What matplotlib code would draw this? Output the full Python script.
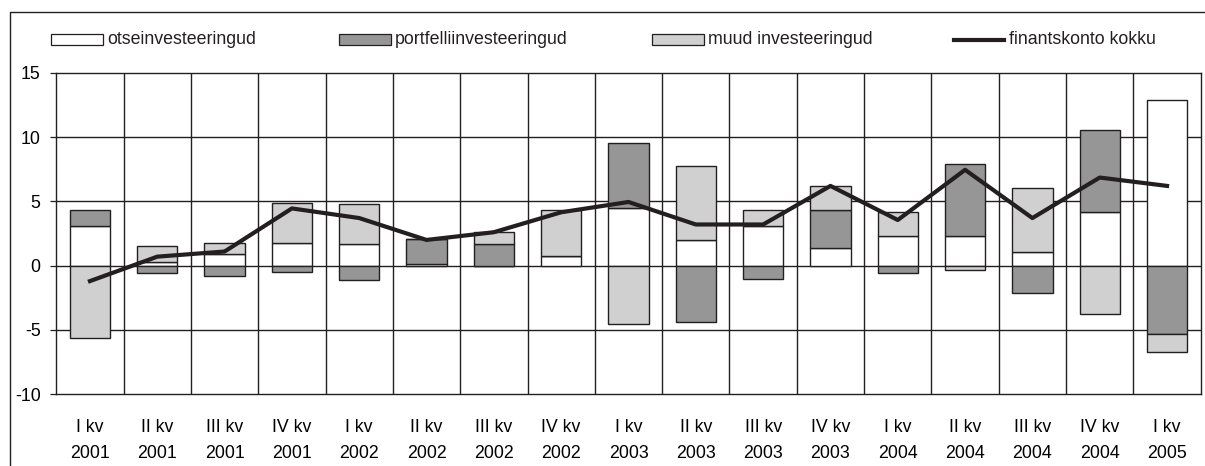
import matplotlib
matplotlib.use("Agg")
import matplotlib.pyplot as plt
from matplotlib.patches import Rectangle
from matplotlib.lines import Line2D
import numpy as np

plt.rcParams['font.family'] = ['Liberation Sans', 'DejaVu Sans']

quarters = ["I kv", "II kv", "III kv", "IV kv", "I kv", "II kv", "III kv", "IV kv", "I kv",
            "II kv", "III kv", "IV kv", "I kv", "II kv", "III kv", "IV kv", "I kv"]
years = ["2001", "2001", "2001", "2001", "2002", "2002", "2002", "2002", "2003",
         "2003", "2003", "2003", "2004", "2004", "2004", "2004", "2005"]

# otseinvesteeringud, portfelliinvesteeringud, muud investeeringud, finantskonto kokku
otse = [3.1, 0.3, 0.9, 1.8, 1.7, 0.1, 0.0, 0.75, 4.5, 2.0, 3.1, 1.4, 2.3, 2.3, 1.05, 4.2, 12.9]
portf = [1.2, -0.6, -0.8, -0.5, -1.1, 2.0, 1.7, 0.0, 5.0, -4.4, -1.0, 2.95, -0.6, 5.6, -2.15, 6.35, -5.3]
muud = [-5.6, 1.2, 0.9, 3.1, 3.1, 0.0, 0.9, 3.6, -4.5, 5.75, 1.25, 1.85, 1.85, -0.3, 5.0, -3.75, -1.4]
kokku = [-1.2, 0.7, 1.1, 4.45, 3.7, 2.0, 2.6, 4.15, 4.95, 3.2, 3.2, 6.2, 3.55, 7.45, 3.7, 6.85, 6.2]

names = ["otseinvesteeringud", "portfelliinvesteeringud", "muud investeeringud", "finantskonto kokku"]
fills = ["white", "#969696", "#d0d0d0"]
edge = "#231f20"
fs = 12.8

W, H = 1205, 466
fig = plt.figure(figsize=(W / 100, H / 100), dpi=100)
ax = fig.add_axes([56.3 / W, 1 - 394.3 / H, (1200.7 - 56.3) / W, (394.3 - 72.7) / H])

x = np.arange(len(otse))
pos_base = np.zeros(len(x))
neg_base = np.zeros(len(x))
for vals, fc in zip([otse, portf, muud], fills):
    v = np.array(vals)
    bottom = np.where(v >= 0, pos_base, neg_base)
    ax.bar(x, v, 0.6, bottom=bottom, color=fc, edgecolor=edge, linewidth=1.0, zorder=3)
    pos_base = pos_base + np.where(v >= 0, v, 0)
    neg_base = neg_base + np.where(v < 0, v, 0)

ax.plot(x, kokku, color=edge, linewidth=3.0, zorder=4)

ax.set_xlim(-0.5, len(x) - 0.5)
ax.set_ylim(-10, 15)
ax.set_yticks([-10, -5, 0, 5, 10, 15])
ax.set_yticklabels(["-10", "-5", "0", "5", "10", "15"], fontsize=fs)
ax.tick_params(axis='y', length=4.3, width=0.9, color=edge, pad=7)
ax.set_xticks(x)
ax.set_xticklabels([q + "\n" + y for q, y in zip(quarters, years)], fontsize=fs, linespacing=1.75)
ax.tick_params(axis='x', length=0, pad=17.5)

# horizontal grid + vertical lines between categories
for yv in [-5, 0, 5, 10]:
    ax.axhline(yv, color=edge, linewidth=1.0, zorder=1)
for xv in np.arange(0.5, len(x) - 0.5, 1):
    ax.axvline(xv, color=edge, linewidth=1.0, zorder=1)
for s in ax.spines.values():
    s.set_color(edge)
    s.set_linewidth(1.0)

# legend across the top
ly = 1 - 39.5 / H
pw, ph = 52 / W, 11.5 / H
patch_x = [50.7, 338.5, 651.7]
for px, fc, name in zip(patch_x, fills, names[:3]):
    fig.add_artist(Rectangle((px / W, ly - ph / 2), pw, ph, facecolor=fc, edgecolor=edge,
                             linewidth=0.9, transform=fig.transFigure))
    fig.text((px + 52 + 4.5) / W, ly, name, fontsize=fs, va='center', ha='left', color=edge)
fig.add_artist(Line2D([954 / W, 1003.7 / W], [ly, ly], color=edge, linewidth=3.0,
                      transform=fig.transFigure))
fig.text(1008.7 / W, ly, names[3], fontsize=fs, va='center', ha='left', color=edge)

# chart area frame
fig.add_artist(Rectangle((10 / W, -0.05), 1.1, 1.05 - 12.3 / H, fill=False, edgecolor=edge,
                         linewidth=1.0, transform=fig.transFigure, clip_on=False))

fig.savefig("out.png", dpi=100)
